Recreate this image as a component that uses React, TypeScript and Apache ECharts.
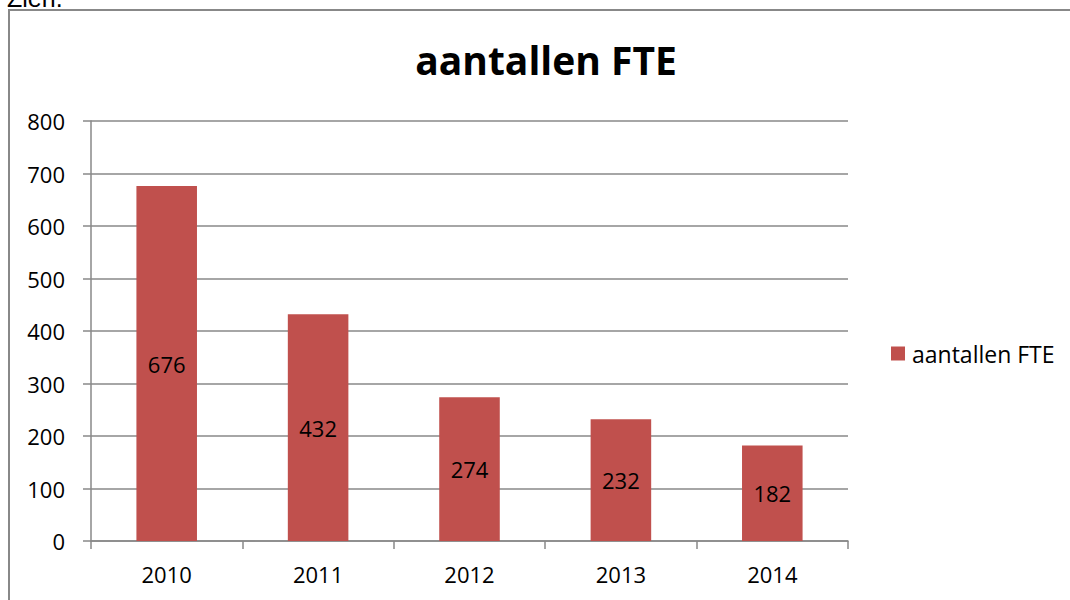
import React, { useEffect, useRef } from "react";
import * as echarts from "echarts";

const categories = ["2010", "2011", "2012", "2013", "2014"];
const fteValues = [676, 432, 274, 232, 182];
const seriesName = "aantallen FTE";
const titleText = "aantallen FTE";
const yTicks = { min: 0, max: 800, interval: 100 };

const FONT = "'Open Sans', 'Liberation Sans', sans-serif";

export default function App() {
  const ref = useRef<HTMLDivElement>(null);
  useEffect(() => {
    if (!ref.current) return;
    const chart = echarts.init(ref.current, null, { renderer: "svg" });
    chart.setOption({
      animation: false,
      backgroundColor: "#ffffff",
      title: {
        text: titleText,
        left: 546,
        top: 40,
        textAlign: "center",
        padding: 0,
        textStyle: {
          fontFamily: FONT,
          fontWeight: "bold",
          fontSize: 39,
          lineHeight: 39,
          color: "#000",
        },
      },
      legend: {
        data: [seriesName],
        left: 891,
        top: 342,
        padding: 0,
        icon: "rect",
        itemWidth: 14,
        itemHeight: 14,
        itemGap: 10,
        textStyle: { fontFamily: FONT, fontSize: 23, color: "#000", padding: [0, 0, 0, 2] },
      },
      grid: {
        left: 91,
        right: 222,
        top: 121,
        bottom: 59,
        outerBoundsMode: "none",
      },
      xAxis: {
        type: "category",
        data: categories,
        axisLine: { lineStyle: { color: "#888", width: 1.5 } },
        axisTick: { show: true, length: 8, lineStyle: { color: "#888", width: 1.5 } },
        axisLabel: { fontFamily: FONT, fontSize: 22, color: "#000", margin: 22 },
      },
      yAxis: {
        type: "value",
        min: yTicks.min,
        max: yTicks.max,
        interval: yTicks.interval,
        axisLine: { show: true, lineStyle: { color: "#888", width: 1.5 } },
        axisTick: { show: true, length: 8, lineStyle: { color: "#888", width: 1.5 } },
        axisLabel: { fontFamily: FONT, fontSize: 22, color: "#000", margin: 26 },
        splitLine: { show: true, lineStyle: { color: "#888", width: 1.5 } },
      },
      series: [
        {
          name: seriesName,
          type: "bar",
          data: fteValues,
          barWidth: "40%",
          itemStyle: { color: "#C0504D" },
          label: {
            show: true,
            position: "inside",
            fontFamily: FONT,
            fontSize: 22,
            color: "#000",
          },
        },
      ],
      graphic: [
        {
          type: "rect",
          shape: { x: 9, y: 10, width: 1100, height: 700 },
          style: { fill: "none", stroke: "#888", lineWidth: 2 },
          silent: true,
        },
        {
          type: "text",
          x: 7,
          y: 10,
          style: {
            text: "Zien.",
            fontFamily: "'Liberation Sans', Arial, sans-serif",
            fontSize: 25,
            fill: "#000",
            textVerticalAlign: "bottom",
            verticalAlign: "bottom",
          },
          silent: true,
        },
      ],
    });
    return () => chart.dispose();
  }, []);
  return (
    <div
      ref={ref}
      style={{ position: "fixed", left: 0, top: 0, width: 1070, height: 600 }}
    />
  );
}
